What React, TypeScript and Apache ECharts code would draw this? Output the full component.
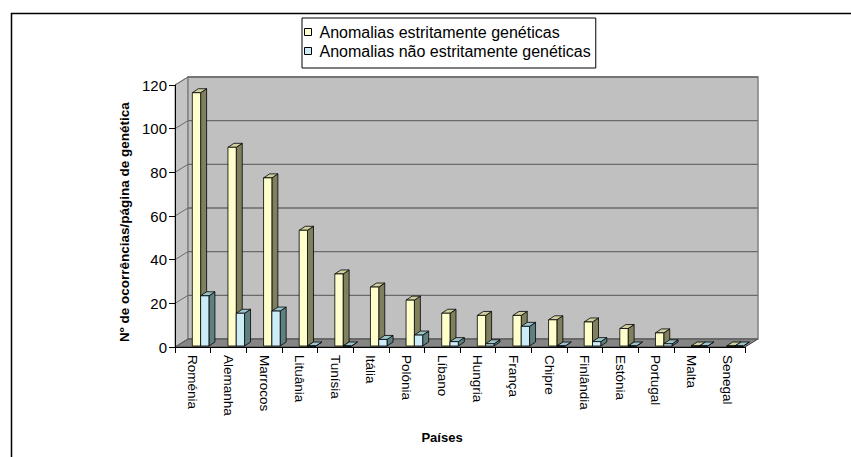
import React, { useEffect, useRef } from "react";
import * as echarts from "echarts";

// Países e número de ocorrências por página de genética
const countries = [
  "Roménia", "Alemanha", "Marrocos", "Lituânia", "Tunísia", "Itália", "Polónia", "Líbano",
  "Hungria", "França", "Chipre", "Finlândia", "Estónia", "Portugal", "Malta", "Senegal",
];
const geneticas = [116, 91, 77, 53, 33, 27, 21, 15, 14, 14, 12, 11, 8, 6, 0, 0];
const naoGeneticas = [23, 15, 16, 0, 0, 3, 5, 2, 1, 9, 0, 2, 0, 1, 0, 0];
const yTicks = [0, 20, 40, 60, 80, 100, 120];
const seriesNames = ["Anomalias estritamente genéticas", "Anomalias não estritamente genéticas"];

const FONT = "'Liberation Sans', Arial, sans-serif";

// oblique depth of the walls and of each column
const WALL_DX = 13;
const WALL_DY = -8;
const BAR_DX = 6;
const BAR_DY = -4;
const BAR_W = 8.3;

const faces = [
  { front: "#FFFFCC", top: "#CFCFA0", side: "#80805F" },
  { front: "#CCECF8", top: "#9CC4CC", side: "#5F8080" },
];

function plotFrame(api: any) {
  const c0 = api.coord([0, 0]);
  const band = api.size([1, 0])[0];
  const left = c0[0] - band / 2;
  const right = left + band * countries.length;
  return { left, right, band, y0: c0[1], yTop: api.coord([0, yTicks[yTicks.length - 1]])[1] };
}

export default function App() {
  const ref = useRef<HTMLDivElement>(null);

  useEffect(() => {
    if (!ref.current) return;
    const chart = echarts.init(ref.current, undefined, { renderer: "svg" });

    const wallSeries = {
      type: "custom",
      name: "walls",
      silent: true,
      clip: false,
      z: 1,
      data: [[0, 0]],
      renderItem: (_p: any, api: any) => {
        const f = plotFrame(api);
        return {
          type: "group",
          children: [
            {
              type: "polygon",
              shape: {
                points: [
                  [f.left, f.yTop],
                  [f.left + WALL_DX, f.yTop + WALL_DY],
                  [f.left + WALL_DX, f.y0 + WALL_DY],
                  [f.left, f.y0],
                ],
              },
              style: { fill: "#C4C4C4", stroke: "#808080", lineWidth: 1 },
            },
            {
              type: "rect",
              shape: {
                x: f.left + WALL_DX,
                y: f.yTop + WALL_DY,
                width: f.right - f.left,
                height: f.y0 - f.yTop,
              },
              style: { fill: "#C0C0C0", stroke: "#808080", lineWidth: 1.5 },
            },
            {
              type: "polygon",
              shape: {
                points: [
                  [f.left, f.y0],
                  [f.right, f.y0],
                  [f.right + WALL_DX, f.y0 + WALL_DY],
                  [f.left + WALL_DX, f.y0 + WALL_DY],
                ],
              },
              style: { fill: "#858585", stroke: "#404040", lineWidth: 1 },
            },
          ],
        };
      },
    };

    const gridSeries = {
      type: "custom",
      name: "gridlines",
      silent: true,
      clip: false,
      z: 2,
      data: yTicks.map((v) => [0, v]),
      renderItem: (_p: any, api: any) => {
        const f = plotFrame(api);
        const y = api.coord([0, api.value(1)])[1];
        return {
          type: "group",
          children: [
            {
              type: "line",
              shape: { x1: f.left + WALL_DX, y1: y + WALL_DY, x2: f.right + WALL_DX, y2: y + WALL_DY },
              style: { stroke: "#6A6A6A", lineWidth: 1.3 },
            },
            {
              type: "line",
              shape: { x1: f.left, y1: y, x2: f.left + WALL_DX, y2: y + WALL_DY },
              style: { stroke: "#6A6A6A", lineWidth: 1 },
            },
          ],
        };
      },
    };

    const barSeries = (idx: number, values: number[]) => ({
      type: "custom",
      name: seriesNames[idx],
      clip: false,
      z: 3 + idx,
      itemStyle: { color: faces[idx].front },
      encode: { x: 0, y: 1 },
      data: values.map((v, i) => [i, v]),
      renderItem: (_p: any, api: any) => {
        const base = api.coord([api.value(0), 0]);
        const top = api.coord([api.value(0), api.value(1)]);
        const x0 = base[0] - 0.5 + idx * BAR_W;
        const x1 = x0 + BAR_W;
        const yb = base[1] - 1;
        const yt = top[1] - 1;
        const line = { stroke: "#000", lineWidth: 0.8 };
        return {
          type: "group",
          children: [
            {
              type: "polygon",
              shape: { points: [[x1, yb], [x1 + BAR_DX, yb + BAR_DY], [x1 + BAR_DX, yt + BAR_DY], [x1, yt]] },
              style: { fill: faces[idx].side, ...line },
            },
            {
              type: "polygon",
              shape: { points: [[x0, yt], [x1, yt], [x1 + BAR_DX, yt + BAR_DY], [x0 + BAR_DX, yt + BAR_DY]] },
              style: { fill: faces[idx].top, ...line },
            },
            {
              type: "rect",
              shape: { x: x0, y: yt, width: BAR_W, height: yb - yt },
              style: { fill: faces[idx].front, ...line },
            },
          ],
        };
      },
    });

    chart.setOption({
      animation: false,
      backgroundColor: "#FFFFFF",
      textStyle: { fontFamily: FONT, color: "#000" },
      graphic: [
        {
          type: "rect",
          left: 9,
          top: 11,
          shape: { width: 1000, height: 1000 },
          style: { fill: "none", stroke: "#000", lineWidth: 1.5 },
          silent: true,
        },
      ],
      legend: {
        left: 302,
        top: 18,
        orient: "vertical",
        data: seriesNames,
        icon: "rect",
        itemWidth: 7,
        itemHeight: 7,
        itemGap: 3,
        padding: [6, 5, 9, 2],
        borderColor: "#000",
        borderWidth: 1,
        backgroundColor: "#FFF",
        itemStyle: { borderColor: "#000", borderWidth: 1 },
        textStyle: { fontFamily: FONT, fontSize: 16, color: "#000", padding: [0, 0, 0, 3] },
        selectedMode: false,
      },
      grid: { left: 175, right: 106, top: 85, bottom: 110, containLabel: false },
      xAxis: {
        type: "category",
        data: countries,
        boundaryGap: true,
        axisLine: { show: true, lineStyle: { color: "#000", width: 1 } },
        axisTick: { show: true, length: 6, interval: 0, lineStyle: { color: "#000" } },
        axisLabel: { rotate: -90, interval: 0, fontSize: 13.5, color: "#000", fontFamily: FONT, margin: 8 },
        splitLine: { show: false },
        name: "Países",
        nameLocation: "middle",
        nameGap: 84,
        nameTextStyle: {
          fontSize: 13,
          fontWeight: "bold",
          color: "#000",
          fontFamily: FONT,
          padding: [0, 36, 0, 0],
        },
        z: 10,
      },
      yAxis: {
        type: "value",
        min: 0,
        max: 120,
        interval: 20,
        axisLine: { show: true, lineStyle: { color: "#000", width: 1 } },
        axisTick: { show: true, length: 6, lineStyle: { color: "#000" } },
        axisLabel: { fontSize: 15, color: "#000", fontFamily: FONT, margin: 8 },
        splitLine: { show: false },
        name: "Nº de ocorrências/página de genética",
        nameLocation: "middle",
        nameGap: 44,
        nameTextStyle: {
          fontSize: 13.5,
          fontWeight: "bold",
          color: "#000",
          fontFamily: FONT,
          padding: [0, 12, 0, 0],
        },
        z: 10,
      },
      series: [wallSeries, gridSeries, barSeries(0, geneticas), barSeries(1, naoGeneticas)],
    });

    return () => chart.dispose();
  }, []);

  return <div ref={ref} style={{ position: "fixed", left: 0, top: 0, width: 851, height: 457 }} />;
}
